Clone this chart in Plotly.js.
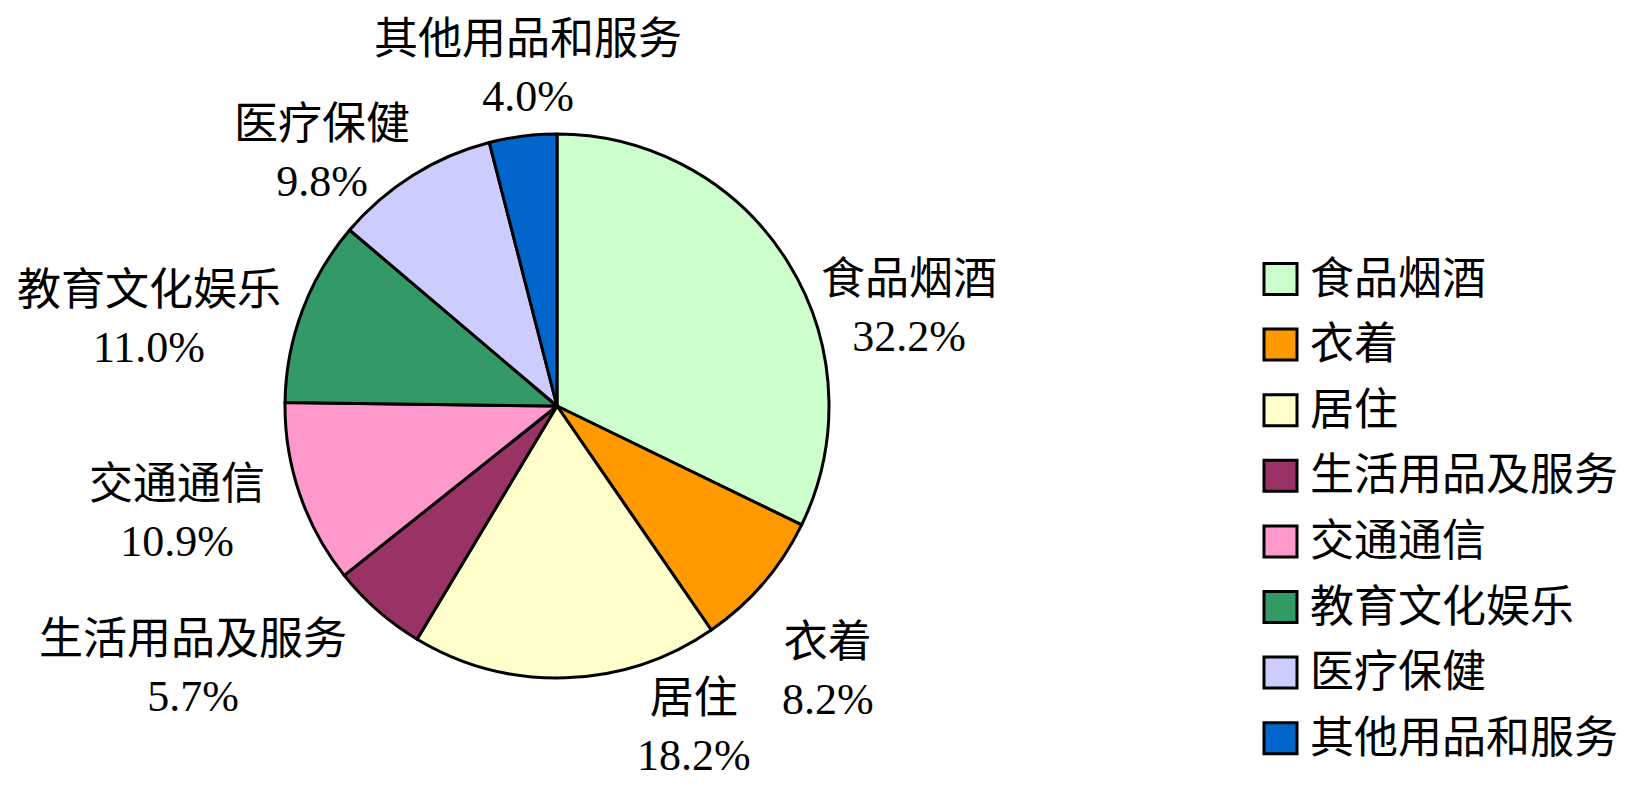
<!DOCTYPE html>
<html>
<head>
<meta charset="utf-8">
<script src="https://cdn.plot.ly/plotly-3.0.1.min.js"></script>
<style>html,body{margin:0;padding:0;background:#fff;}#chart{width:1644px;height:790px;}</style>
</head>
<body>
<div id="chart"></div>
<script>
// ---- data ----
const categories = ['食品烟酒', '衣着', '居住', '生活用品及服务', '交通通信', '教育文化娱乐', '医疗保健', '其他用品和服务'];
const shares = [32.2, 8.2, 18.2, 5.7, 10.9, 11.0, 9.8, 4.0];
const colors = ['#CCFFCC', '#FF9900', '#FFFFCC', '#993366', '#FF99CC', '#339966', '#CCCCFF', '#0066CC'];

// ---- layout (pixels) ----
const W = 1644, H = 790;
const cx = 557, cy = 406, R = 272;
// label block centre offsets from pie centre (px)
const labelOffsets = [[352, -98], [271, 265], [137, 321], [-364, 262], [-380, 107], [-408, -87], [-235, -253], [-29, -338]];
const FONT = '"Liberation Serif", "Noto Sans CJK SC", serif';
const FS = 44;
const legend = {boxX: 1264, boxW: 33, boxH: 31, textX: 1308, y0: 279, dy: 65.6};

const px = x => x / W;
const py = y => 1 - y / H;

const annotations = categories.map((c, i) => ({
  xref: 'paper', yref: 'paper',
  x: px(cx + labelOffsets[i][0]), y: py(cy + labelOffsets[i][1]),
  xanchor: 'center', yanchor: 'middle', align: 'center',
  showarrow: false,
  text: c + '<br>' + shares[i].toFixed(1) + '%',
  font: {family: FONT, size: FS, color: '#000'}
}));
const shapes = [];
categories.forEach((c, i) => {
  const yc = legend.y0 + i * legend.dy;
  shapes.push({
    type: 'rect', xref: 'paper', yref: 'paper',
    x0: px(legend.boxX), x1: px(legend.boxX + legend.boxW),
    y0: py(yc - legend.boxH / 2), y1: py(yc + legend.boxH / 2),
    fillcolor: colors[i], line: {color: '#000', width: 3}
  });
  annotations.push({
    xref: 'paper', yref: 'paper', x: px(legend.textX), y: py(yc),
    xanchor: 'left', yanchor: 'middle', showarrow: false,
    text: c, font: {family: FONT, size: FS, color: '#000'}
  });
});

const trace = {
  type: 'pie',
  labels: categories,
  values: shares,
  sort: false,
  direction: 'clockwise',
  rotation: 0,
  textinfo: 'none',
  hoverinfo: 'label+percent',
  marker: {colors: colors, line: {color: '#000', width: 3}},
  domain: {x: [px(cx - R), px(cx + R)], y: [py(cy + R), py(cy - R)]},
  showlegend: false
};

Plotly.newPlot('chart', [trace], {
  width: W, height: H,
  margin: {l: 0, r: 0, t: 0, b: 0},
  paper_bgcolor: '#fff', plot_bgcolor: '#fff',
  showlegend: false,
  annotations: annotations,
  shapes: shapes
}, {displayModeBar: false, staticPlot: true});
</script>
</body>
</html>
